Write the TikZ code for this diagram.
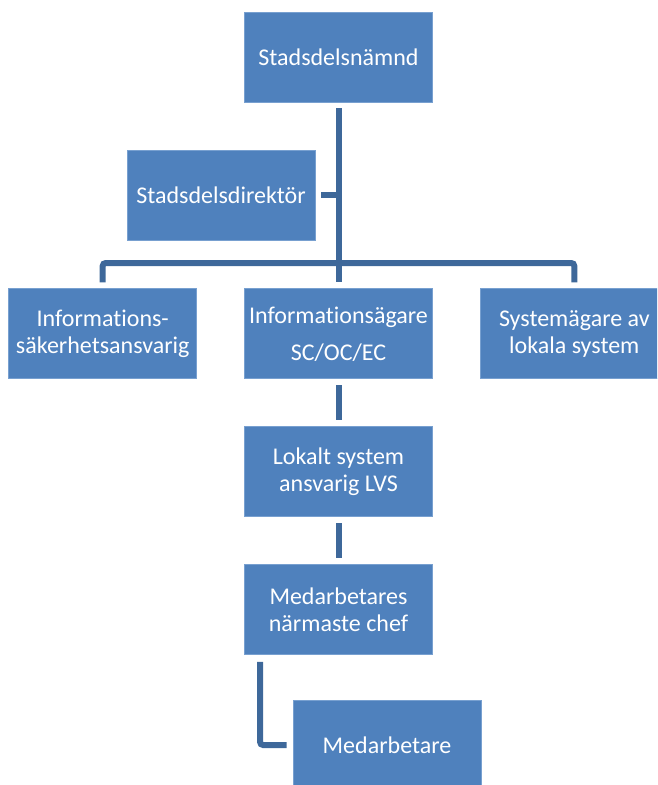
\documentclass[tikz,border=0pt]{standalone}
\usepackage{fontspec}
\setmainfont{Carlito}[Ligatures=NoCommon]
\usepackage{xcolor}
\usetikzlibrary{positioning}
\usetikzlibrary{calc}

\definecolor{boxblue}{RGB}{79,129,189}
\definecolor{boxedge}{RGB}{120,160,208}
\definecolor{linkblue}{RGB}{62,104,154}

\begin{document}
\begin{tikzpicture}[x=1pt,y=-1pt,
    basic/.style={draw=boxedge,line width=0.8pt,fill=boxblue,text=white,font=\fontsize{24}{27}\selectfont,align=center},
    unit/.style={basic,rectangle,minimum width=188pt,minimum height=90pt,inner sep=2pt},
    link/.style={draw=linkblue,line width=6pt,rounded corners=3pt},
]
    \useasboundingbox (0,0) rectangle (657,785);
    \clip (0,0) rectangle (657,785);
        \node[unit] (board) at (338.5,57) {Stadsdelsnämnd};
        \node[unit] (director) at (221,195) {Stadsdelsdirektör};
        \node[unit,below=186pt of board] (owner) {Informationsägare\\[10pt]SC/OC/EC};
        \node[unit,left=47pt of owner] (security) {Informations-\\säkerhetsansvarig};
        \node[unit,right=47pt of owner] (sysowner) {Systemägare av\\lokala system};
        \node[unit,below=47pt of owner] (lvs) {Lokalt system\\ansvarig LVS};
        \node[unit,below=47pt of lvs] (chief) {Medarbetares\\närmaste chef};
        \node[unit] (staff) at (387,745) {Medarbetare};
    % connectors
        \coordinate (bus) at (338.5,263);
        \path[link,shorten <=6pt,shorten >=6pt] (board) -- (owner);
        \path[link,shorten <=6pt,shorten >=6pt] (security) |- (bus) -| (sysowner);
        \path[link,shorten <=6pt] (director) -- (director -| board);
        \path[link,shorten <=6pt,shorten >=6pt] (owner) -- (lvs);
        \path[link,shorten <=6pt,shorten >=6pt] (lvs) -- (chief);
        \path[link,shorten <=7pt,shorten >=6pt] ([xshift=16pt]chief.south west) |- (staff);
\end{tikzpicture}
\end{document}
